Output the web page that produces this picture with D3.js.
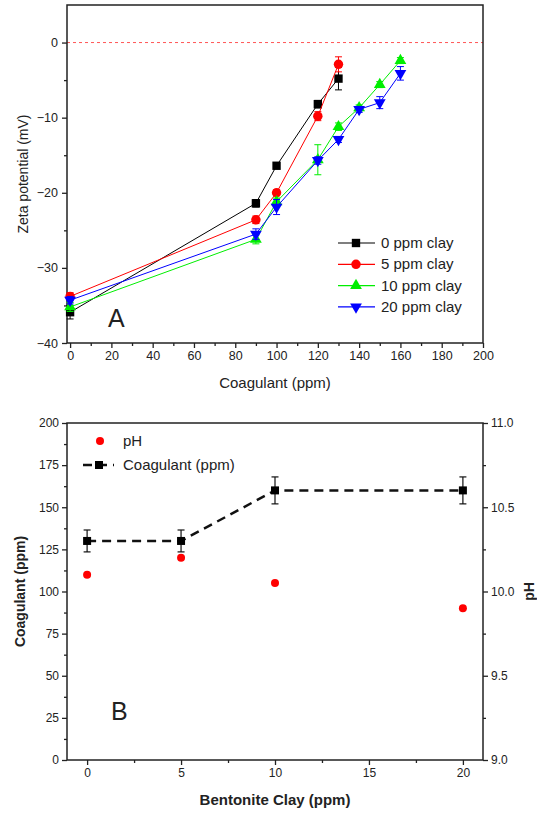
<!DOCTYPE html>
<html><head><meta charset="utf-8">
<script src="https://cdn.jsdelivr.net/npm/d3@7"></script>
<style>body{margin:0;background:#fff}svg{display:block}text{font-family:Arial,"Liberation Sans",sans-serif;fill:#222}</style>
</head><body>
<script>
// ---------- Panel A data ----------
const seriesNames = ["0 ppm clay","5 ppm clay","10 ppm clay","20 ppm clay"];
const seriesColors = ["#000000","#ff0000","#00ee00","#0000ff"];
const x0 = [0,90,100,120,130];
const y0 = [-35.9,-21.4,-16.4,-8.2,-4.8];
const e0 = [0.9,0.5,0.4,0.5,1.5];
const x5 = [0,90,100,120,130];
const y5 = [-33.8,-23.6,-20.0,-9.8,-2.9];
const e5 = [0.5,0.5,0.4,0.6,1.0];
const x10 = [0,90,100,120,130,140,150,160];
const y10 = [-35.2,-26.2,-21.2,-15.6,-11.2,-8.7,-5.6,-2.4];
const e10 = [0.6,0.6,0.5,2.0,0.5,0.4,0.4,0.4];
const x20 = [0,90,100,120,130,140,150,160];
const y20 = [-34.3,-25.5,-21.9,-15.7,-12.9,-8.9,-8.0,-4.1];
const e20 = [0.5,0.7,1.0,0.5,0.4,0.4,0.8,0.9];
const xTicksA = [0,20,40,60,80,100,120,140,160,180,200];
const yTicksA = [0,-10,-20,-30,-40];

// ---------- Panel B data ----------
const clay = [0,5,10,20];
const coag = [130,130,160,160];
const coagErr = [6.5,6.5,8,8];
const pH = [10.1,10.2,10.05,9.9];
const xTicksB = [0,5,10,15,20];
const yTicksB = [0,25,50,75,100,125,150,175,200];
const pHTicks = [9.0,9.5,10.0,10.5,11.0];

const W = 537, H = 813;
const svg = d3.select("body").append("svg").attr("width",W).attr("height",H);

// ================= Panel A =================
const A = {l:67, r:483, t:5, b:343};
const xA = d3.scaleLinear().domain([-1.5,200]).range([A.l,A.r]);
const yA = d3.scaleLinear().domain([-40,5]).range([A.b,A.t]);
const gA = svg.append("g");

gA.append("line").attr("x1",A.l).attr("x2",A.r).attr("y1",yA(0)).attr("y2",yA(0))
  .attr("stroke","#ff5555").attr("stroke-width",1).attr("stroke-dasharray","3,3");

const gxA = gA.append("g").attr("transform",`translate(0,${A.b})`)
  .call(d3.axisBottom(xA).tickValues(xTicksA).tickSize(5).tickFormat(d3.format("d")));
gA.append("g").attr("transform",`translate(0,${A.b})`)
  .call(d3.axisBottom(xA).tickValues(d3.range(10,200,20)).tickSize(3).tickFormat(""));
const gyA = gA.append("g").attr("transform",`translate(${A.l},0)`)
  .call(d3.axisLeft(yA).tickValues(yTicksA).tickSize(5));
gA.append("g").attr("transform",`translate(${A.l},0)`)
  .call(d3.axisLeft(yA).tickValues([-5,-15,-25,-35]).tickSize(3).tickFormat(""));
gA.selectAll(".domain").remove();
gA.selectAll(".tick line").attr("stroke","#222").attr("stroke-width",1.3);
gA.selectAll(".tick text").attr("font-size",12.5).attr("fill","#222");
gyA.selectAll(".tick text").attr("dx",-1);
gA.append("rect").attr("x",A.l).attr("y",A.t).attr("width",A.r-A.l).attr("height",A.b-A.t)
  .attr("fill","none").attr("stroke","#222").attr("stroke-width",1.5);

gA.append("text").attr("transform",`translate(24,${(A.t+A.b)/2}) rotate(-90)`)
  .attr("text-anchor","middle").attr("dominant-baseline","middle").attr("font-size",14).text("Zeta potential (mV)");
gA.append("text").attr("x",(A.l+A.r)/2).attr("y",388).attr("text-anchor","middle")
  .attr("font-size",15).text("Coagulant (ppm)");
gA.append("text").attr("x",108).attr("y",327).attr("font-size",25).text("A");

const sym = [d3.symbolSquare, d3.symbolCircle, d3.symbolTriangle, d3.symbolTriangle];
const symSize = [70,70,60,60];
const symRot = [0,0,0,180];
const dataA = [[x0,y0,e0],[x5,y5,e5],[x10,y10,e10],[x20,y20,e20]];
dataA.forEach(([xs,ys,es],i)=>{
  const pts = xs.map((x,j)=>({x,y:ys[j],e:es[j]}));
  const g = gA.append("g");
  g.append("path").datum(pts).attr("fill","none").attr("stroke",seriesColors[i]).attr("stroke-width",1)
    .attr("d",d3.line().x(d=>xA(d.x)).y(d=>yA(d.y)));
  pts.forEach(d=>{
    const cx = xA(d.x);
    g.append("line").attr("x1",cx).attr("x2",cx).attr("y1",yA(d.y-d.e)).attr("y2",yA(d.y+d.e)).attr("stroke",seriesColors[i]).attr("stroke-width",1);
    [d.y-d.e,d.y+d.e].forEach(v=>g.append("line").attr("x1",cx-3.5).attr("x2",cx+3.5).attr("y1",yA(v)).attr("y2",yA(v)).attr("stroke",seriesColors[i]).attr("stroke-width",1));
  });
  g.selectAll("path.m").data(pts).join("path").attr("class","m")
    .attr("d",d3.symbol().type(sym[i]).size(symSize[i]))
    .attr("transform",d=>`translate(${xA(d.x)},${yA(d.y)}) rotate(${symRot[i]})`)
    .attr("fill",seriesColors[i]);
});
seriesNames.forEach((n,i)=>{
  const ly = 243 + i*21.3;
  gA.append("line").attr("x1",338).attr("x2",375).attr("y1",ly).attr("y2",ly).attr("stroke",seriesColors[i]).attr("stroke-width",1.2);
  gA.append("path").attr("d",d3.symbol().type(sym[i]).size(symSize[i]))
    .attr("transform",`translate(356,${ly}) rotate(${symRot[i]})`).attr("fill",seriesColors[i]);
  gA.append("text").attr("x",381).attr("y",ly+1).attr("dominant-baseline","middle").attr("font-size",15).text(n);
});

// ================= Panel B =================
const B = {l:67, r:483, t:423, b:760};
const xB = d3.scaleLinear().domain([-1.07,21.07]).range([B.l,B.r]);
const yB = d3.scaleLinear().domain([0,200]).range([B.b,B.t]);
const yP = d3.scaleLinear().domain([9,11]).range([B.b,B.t]);
const gB = svg.append("g");

gB.append("g").attr("transform",`translate(0,${B.b})`)
  .call(d3.axisBottom(xB).tickValues(xTicksB).tickSize(5).tickFormat(d3.format("d")));
gB.append("g").attr("transform",`translate(0,${B.b})`)
  .call(d3.axisBottom(xB).tickValues([2.5,7.5,12.5,17.5]).tickSize(3).tickFormat(""));
gB.append("g").attr("transform",`translate(${B.l},0)`)
  .call(d3.axisLeft(yB).tickValues(yTicksB).tickSize(5).tickFormat(d3.format("d")));
gB.append("g").attr("transform",`translate(${B.l},0)`)
  .call(d3.axisLeft(yB).tickValues(d3.range(12.5,200,25)).tickSize(3).tickFormat(""));
gB.append("g").attr("transform",`translate(${B.r},0)`)
  .call(d3.axisRight(yP).tickValues(pHTicks).tickSize(5).tickFormat(d3.format(".1f")));
gB.append("g").attr("transform",`translate(${B.r},0)`)
  .call(d3.axisRight(yP).tickValues([9.25,9.75,10.25,10.75]).tickSize(3).tickFormat(""));
gB.selectAll(".domain").remove();
gB.selectAll(".tick line").attr("stroke","#222").attr("stroke-width",1.3);
gB.selectAll(".tick text").attr("font-size",12).attr("fill","#222");
gB.append("rect").attr("x",B.l).attr("y",B.t).attr("width",B.r-B.l).attr("height",B.b-B.t)
  .attr("fill","none").attr("stroke","#222").attr("stroke-width",1.5);

gB.append("text").attr("transform",`translate(21,${(B.t+B.b)/2}) rotate(-90)`)
  .attr("text-anchor","middle").attr("dominant-baseline","middle").attr("font-size",14).attr("font-weight","bold").text("Coagulant (ppm)");
gB.append("text").attr("transform",`translate(530,${(B.t+B.b)/2}) rotate(-90)`)
  .attr("text-anchor","middle").attr("dominant-baseline","middle").attr("font-size",14).attr("font-weight","bold").text("pH");
gB.append("text").attr("x",(B.l+B.r)/2).attr("y",805).attr("text-anchor","middle")
  .attr("font-size",15).attr("font-weight","bold").text("Bentonite Clay (ppm)");
gB.append("text").attr("x",111).attr("y",720).attr("font-size",25).text("B");

const coagPts = clay.map((c,i)=>({x:c,y:coag[i],e:coagErr[i]}));
gB.append("path").datum(coagPts).attr("fill","none").attr("stroke","#111").attr("stroke-width",2.5)
  .attr("stroke-dasharray","9,6").attr("d",d3.line().x(d=>xB(d.x)).y(d=>yB(d.y)));
coagPts.forEach(d=>{
  const cx = xB(d.x);
  gB.append("line").attr("x1",cx).attr("x2",cx).attr("y1",yB(d.y-d.e)).attr("y2",yB(d.y+d.e)).attr("stroke","#111").attr("stroke-width",1.2);
  [d.y-d.e,d.y+d.e].forEach(v=>gB.append("line").attr("x1",cx-3.5).attr("x2",cx+3.5).attr("y1",yB(v)).attr("y2",yB(v)).attr("stroke","#111").attr("stroke-width",1.2));
});
gB.selectAll("rect.m").data(coagPts).join("rect").attr("class","m")
  .attr("x",d=>xB(d.x)-4).attr("y",d=>yB(d.y)-4).attr("width",8).attr("height",8).attr("fill","#000");
gB.selectAll("circle.p").data(clay.map((c,i)=>({x:c,y:pH[i]}))).join("circle").attr("class","p")
  .attr("cx",d=>xB(d.x)).attr("cy",d=>yP(d.y)).attr("r",4).attr("fill","#ff0000");

gB.append("circle").attr("cx",100).attr("cy",441).attr("r",4).attr("fill","#ff0000");
gB.append("text").attr("x",123).attr("y",442).attr("dominant-baseline","middle").attr("font-size",15).text("pH");
gB.append("line").attr("x1",81).attr("x2",114).attr("y1",465).attr("y2",465).attr("stroke","#111").attr("stroke-width",2.5).attr("stroke-dasharray","9,6").attr("stroke-dashoffset",-2);
gB.append("rect").attr("x",95).attr("y",461).attr("width",8).attr("height",8).attr("fill","#000");
gB.append("text").attr("x",123).attr("y",466).attr("dominant-baseline","middle").attr("font-size",15).text("Coagulant (ppm)");
</script>
</body></html>
